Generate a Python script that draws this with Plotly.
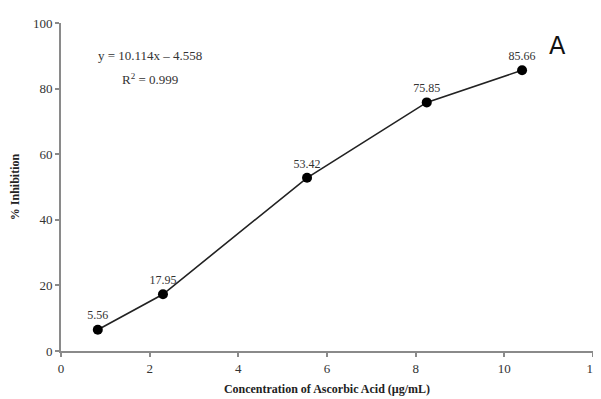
import plotly.graph_objects as go

conc = [0.83, 2.3, 5.55, 8.25, 10.4]
inhibition = [6.5, 17.3, 52.8, 75.8, 85.6]
point_labels = ["5.56", "17.95", "53.42", "75.85", "85.66"]
x_ticks = [0, 2, 4, 6, 8, 10, 12]
y_ticks = [0, 20, 40, 60, 80, 100]

serif = "Liberation Serif, Times New Roman, serif"

fig = go.Figure()
fig.add_trace(go.Scatter(
    x=conc, y=inhibition, mode="lines+markers+text",
    text=point_labels, textposition="top center",
    textfont=dict(family=serif, size=12, color="#333"),
    line=dict(color="#222", width=1.6),
    marker=dict(color="black", size=10),
    showlegend=False, cliponaxis=False,
))

axis_common = dict(
    showline=True, linecolor="#8a8a8a", linewidth=2,
    ticks="outside", ticklen=4, tickcolor="#8a8a8a", tickwidth=1.5,
    showgrid=False, zeroline=False, automargin=False,
    ticklabeloverflow="allow",
    tickfont=dict(family=serif, size=13, color="#333"),
)

fig.update_xaxes(range=[0, 12], tickvals=x_ticks, **axis_common,
                 title=dict(text="<b>Concentration of Ascorbic Acid (µg/mL)</b>",
                            font=dict(family=serif, size=12, color="#222"), standoff=10))
fig.update_yaxes(range=[0, 100], tickvals=y_ticks, **axis_common,
                 title=dict(text="<b>% Inhibition</b>",
                            font=dict(family=serif, size=12, color="#222"), standoff=18))

fig.add_annotation(x=2.0, y=90, xref="x", yref="y", text="y = 10.114x – 4.558",
                   showarrow=False, xanchor="center",
                   font=dict(family=serif, size=13, color="#333"))
fig.add_annotation(x=2.0, y=83, xref="x", yref="y", text="R<sup>2</sup> = 0.999",
                   showarrow=False, xanchor="center",
                   font=dict(family=serif, size=13, color="#333"))
fig.add_annotation(x=11.2, y=93, xref="x", yref="y", text="A",
                   showarrow=False, xanchor="center",
                   font=dict(family="DejaVu Sans, Arial, sans-serif", size=24, color="#111"))

# page body has an 8px default margin, so the figure is offset by 8px
fig.update_layout(
    width=593, height=389,
    margin=dict(l=53, r=8, t=15, b=46),
    paper_bgcolor="white", plot_bgcolor="white",
)

fig.write_html("out.html")
